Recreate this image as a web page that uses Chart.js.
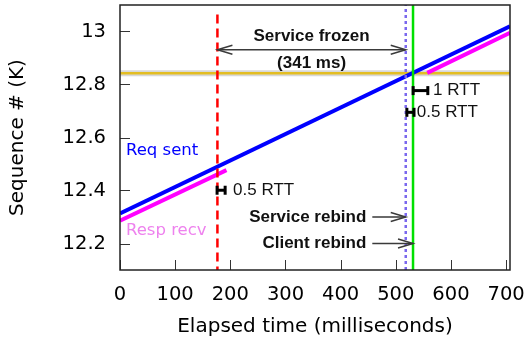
<!DOCTYPE html>
<html lang="en">
<head>
<meta charset="UTF-8" />
<title>Service frozen</title>
<script src="https://cdn.jsdelivr.net/npm/chart.js@4.4.0"></script>
<style>
  html, body { margin: 0; padding: 0; background: #fff; }
</style>
</head>
<body>
<canvas id="seqChart" width="528" height="343"></canvas>
<script>
  // axes
  const xTicks = [0, 100, 200, 300, 400, 500, 600, 700];
  const yTicks = [12.2, 12.4, 12.6, 12.8, 13];
  const xRange = [0, 707];
  const yRange = [12.1, 13.1];

  // series (ms, sequence # in K)
  const reqSentMs = [0, 707];
  const reqSentSeq = [12.313, 13.02];
  const respEarlyMs = [0, 193];
  const respEarlySeq = [12.286, 12.477];
  const respLateMs = [557, 707];
  const respLateSeq = [12.844, 12.995];
  const targetSeq = 12.842;

  // events
  const frozenMs = 176.6;
  const serviceRebindMs = 518;
  const clientRebindMs = 531.2;
  const frozenTopSeq = 13.064;

  // rtt bars
  const rttLabels = ['1 RTT', '0.5 RTT', '0.5 RTT'];
  const rttStartMs = [531.4, 520, 176];
  const rttEndMs = [558, 533, 190.6];
  const rttSeq = [12.777, 12.695, 12.401];
  const rttTextMs = [567.6, 538, 205];

  const pts = (xs, ys) => xs.map((x, i) => ({ x: x, y: ys[i] }));
  const line = (data, color, width, order, extra) => Object.assign({
    data: data, borderColor: color, backgroundColor: color, borderWidth: width,
    pointRadius: 0, tension: 0, fill: false, order: order
  }, extra || {});

  const datasets = [
    line(pts(xRange, [targetSeq, targetSeq]), '#d8d8d8', 6, 20),
    line(pts(xRange, [targetSeq, targetSeq]), '#e3bd22', 2.5, 19),
    line(pts(respEarlyMs, respEarlySeq), '#ff00ff', 4, 8),
    line(pts(respLateMs, respLateSeq), '#ff00ff', 4, 8),
    line(pts(reqSentMs, reqSentSeq), '#0000ff', 4, 7),
    line(pts([frozenMs, frozenMs], [frozenTopSeq, yRange[0]]), '#ff0000', 2.5, 5, { borderDash: [9, 5] }),
    line(pts([serviceRebindMs, serviceRebindMs], yRange), '#7b68ee', 2.5, 4, { borderDash: [3, 3] }),
    line(pts([clientRebindMs, clientRebindMs], yRange), '#00e000', 2.5, 3)
  ];
  rttLabels.forEach((lab, i) => {
    datasets.push(line(pts([rttStartMs[i], rttEndMs[i]], [rttSeq[i], rttSeq[i]]), '#000', 3, 1, {
      pointStyle: 'line', pointRotation: 90, pointRadius: 4.5, pointBorderWidth: 3
    }));
  });

  function arrowHead(ctx, x, y, dir) {
    ctx.beginPath();
    ctx.moveTo(x - dir * 15, y - 4.5);
    ctx.lineTo(x, y);
    ctx.lineTo(x - dir * 15, y + 4.5);
    ctx.stroke();
  }

  const decorations = {
    id: 'decorations',
    afterDraw(chart) {
      const ctx = chart.ctx, xs = chart.scales.x, ys = chart.scales.y, a = chart.chartArea;
      ctx.save();
      // inward ticks
      ctx.strokeStyle = '#333';
      ctx.lineWidth = 1;
      ctx.beginPath();
      xTicks.forEach(v => { const px = Math.round(xs.getPixelForValue(v)) + 0.5; ctx.moveTo(px, a.bottom); ctx.lineTo(px, a.bottom - 10); });
      yTicks.forEach(v => { const py = Math.round(ys.getPixelForValue(v)) + 0.5; ctx.moveTo(a.left, py); ctx.lineTo(a.left + 10, py); });
      ctx.stroke();
      // frame
      ctx.strokeStyle = '#222';
      ctx.lineWidth = 1.5;
      ctx.strokeRect(a.left, a.top, a.right - a.left, a.bottom - a.top);

      // service frozen arrow
      const xf = xs.getPixelForValue(frozenMs), xr = xs.getPixelForValue(serviceRebindMs), xc = xs.getPixelForValue(clientRebindMs);
      const ya = ys.getPixelForValue(12.931);
      ctx.strokeStyle = '#3a3a3a';
      ctx.lineWidth = 1.5;
      ctx.beginPath(); ctx.moveTo(xf, ya); ctx.lineTo(xr, ya); ctx.stroke();
      arrowHead(ctx, xf, ya, -1);
      arrowHead(ctx, xr, ya, 1);

      ctx.fillStyle = '#111';
      ctx.font = 'bold 17px "Liberation Sans"';
      ctx.textAlign = 'center';
      ctx.textBaseline = 'middle';
      const xm = (xf + xr) / 2;
      ctx.fillText('Service frozen', xm, ys.getPixelForValue(12.981));
      ctx.fillText('(341 ms)', xm, ys.getPixelForValue(12.879));

      // rebind arrows
      const xText = xs.getPixelForValue(446.5);
      const ySr = ys.getPixelForValue(12.3), yCr = ys.getPixelForValue(12.2);
      ctx.textAlign = 'right';
      ctx.fillText('Service rebind', xText, ySr);
      ctx.fillText('Client rebind', xText, yCr);
      ctx.beginPath();
      ctx.moveTo(xText + 6, ySr); ctx.lineTo(xr, ySr);
      ctx.moveTo(xText + 6, yCr); ctx.lineTo(xc, yCr);
      ctx.stroke();
      arrowHead(ctx, xr, ySr, 1);
      arrowHead(ctx, xc, yCr, 1);

      // rtt labels
      ctx.font = '17px "Liberation Sans"';
      ctx.textAlign = 'left';
      rttLabels.forEach((lab, i) => {
        ctx.fillText(lab, xs.getPixelForValue(rttTextMs[i]), ys.getPixelForValue(rttSeq[i]));
      });

      // series names
      ctx.font = '16.5px "DejaVu Sans"';
      ctx.fillStyle = '#0000ff';
      ctx.fillText('Req sent', a.left + 6, ys.getPixelForValue(12.549));
      ctx.fillStyle = '#ee82ee';
      ctx.fillText('Resp recv', a.left + 6, ys.getPixelForValue(12.249));
      ctx.restore();
    }
  };

  Chart.defaults.font.family = '"DejaVu Sans"';
  Chart.defaults.color = '#000';

  new Chart(document.getElementById('seqChart'), {
    type: 'line',
    data: { datasets: datasets },
    options: {
      responsive: false,
      animation: false,
      devicePixelRatio: 1,
      layout: { autoPadding: false, padding: { top: 5, right: 18, left: 0, bottom: 0 } },
      plugins: { legend: { display: false }, tooltip: { enabled: false } },
      scales: {
        x: {
          type: 'linear', min: xRange[0], max: xRange[1],
          grid: { display: false, drawTicks: false },
          border: { display: false },
          afterBuildTicks: s => { s.ticks = xTicks.map(v => ({ value: v })); },
          afterFit: s => { s.height = 73; s.paddingLeft = 0; s.paddingRight = 0; },
          ticks: { font: { size: 19.5 }, padding: 13, maxRotation: 0 },
          title: { display: true, text: 'Elapsed time (milliseconds)', font: { size: 20 }, padding: { top: 0, bottom: 4 } }
        },
        y: {
          type: 'linear', min: yRange[0], max: yRange[1],
          grid: { display: false, drawTicks: false },
          border: { display: false },
          afterBuildTicks: s => { s.ticks = yTicks.map(v => ({ value: v })); },
          afterFit: s => { s.width = 120; s.paddingTop = 0; s.paddingBottom = 0; },
          ticks: { font: { size: 19.5 }, padding: 14, callback: v => String(+v.toFixed(1)) },
          title: { display: true, text: 'Sequence # (K)', font: { size: 20 }, padding: { top: 6, bottom: 0 } }
        }
      }
    },
    plugins: [decorations]
  });
</script>
</body>
</html>
